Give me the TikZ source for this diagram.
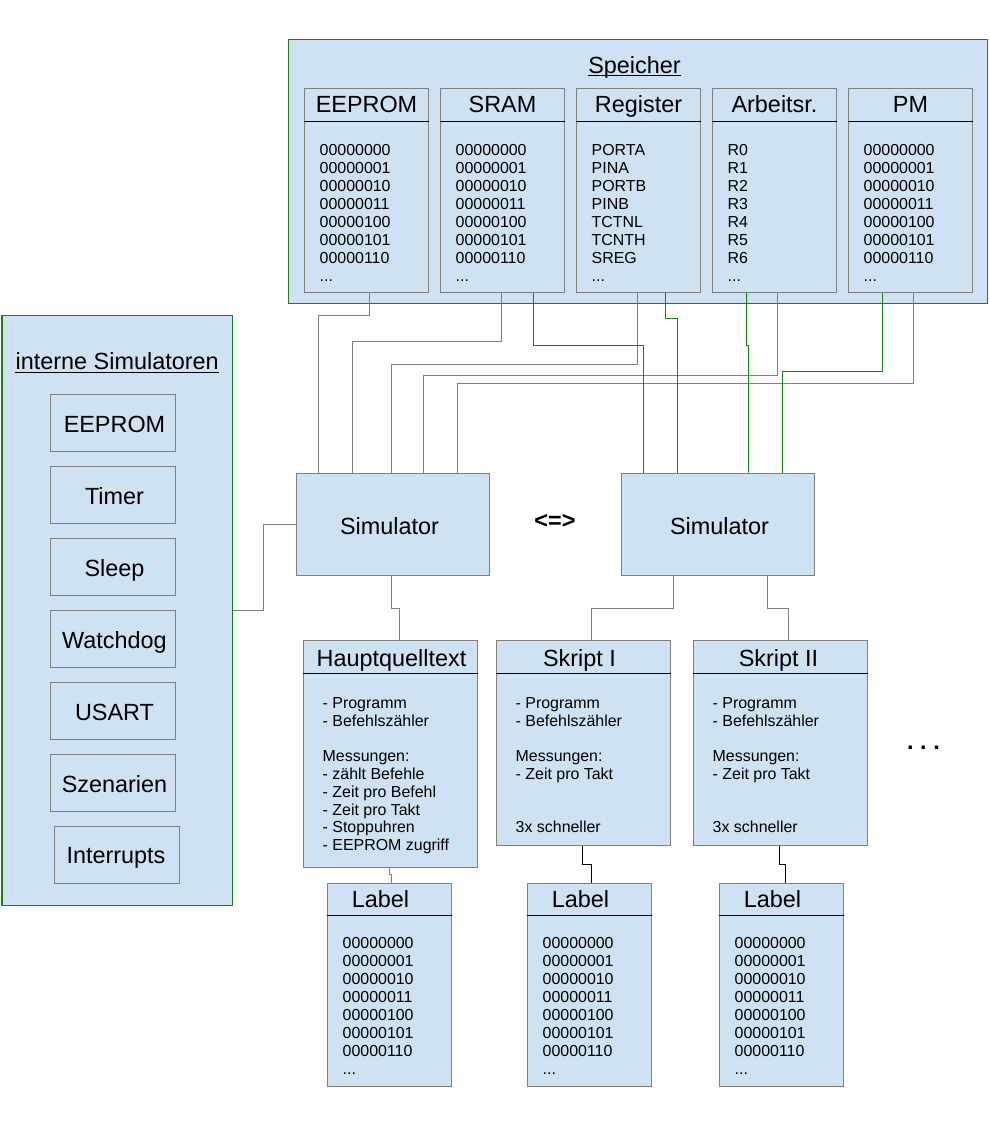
\documentclass[tikz,border=0pt]{standalone}
\usepackage{fontspec}
\setmainfont{Liberation Sans}
\definecolor{boxfill}{RGB}{207,226,243}
\definecolor{boxline}{RGB}{128,128,128}
\definecolor{grn}{RGB}{20,130,20}
\newcommand\mycont{\fontsize{16}{18}\selectfont}
\newcommand\mytitle{\fontsize{23.5}{26}\selectfont}
\begin{document}
\begin{tikzpicture}[x=1bp,y=-1bp,
  box/.style={draw=boxline,fill=boxfill,line width=1bp,inner sep=0,anchor=north west},
  panel/.style={draw=grn,fill=boxfill,line width=1bp,inner sep=0,anchor=north west},
  txt/.style={inner sep=0,font=\mycont,anchor=base west},
  ttl/.style={inner sep=0,font=\mytitle,anchor=base},
  gline/.style={draw=boxline,line width=1bp},
  gnline/.style={draw=grn,line width=1bp},
  bline/.style={draw=black,line width=1bp},
  sepline/.style={draw=black,line width=1bp},
  uline/.style={draw=black,line width=1.3bp}]
\useasboundingbox (0,0) rectangle (990,1123);
\fill[white] (0,0) rectangle (990,1123);
\begin{scope}[shift={(0.5,0.5)}]
% ---------- Speicher ----------
\node[panel,minimum width=699bp,minimum height=264bp] (spe) at (287,38) {};
\node[ttl] (spT) at (634,72.7) {Speicher};
\draw[uline] ([yshift=-2.5bp]spT.base west) -- ([yshift=-2.5bp]spT.base east);

\foreach \nm/\xx/\hd in {eep/303/EEPROM, sram/439/SRAM, reg/575/Register, arb/711/Arbeitsr., pm/847/PM}{
  \node[box,minimum width=124bp,minimum height=204bp] (\nm) at (\xx,87) {};
  \draw[sepline] ([yshift=-34bp]\nm.north west) -- ([yshift=-34bp]\nm.north east);
  \node[ttl] (\nm-t) at (\xx+63,112.4) {\hd};
  \node[txt] (\nm-7) at (\xx+16,280.7) {...};
}
\foreach \nm/\xx in {eep/303, sram/439, pm/847}{
  \foreach \t [count=\i from 0] in {00000000,00000001,00000010,00000011,00000100,00000101,00000110}
    \node[txt] (\nm-\i) at (\xx+16,154.7+18*\i) {\t};
}
\foreach \t [count=\i from 0] in {PORTA,PINA,PORTB,PINB,TCTNL,TCNTH,SREG}
  \node[txt] (reg-\i) at (591,154.7+18*\i) {\t};
\foreach \t [count=\i from 0] in {R0,R1,R2,R3,R4,R5,R6}
  \node[txt] (arb-\i) at (727,154.7+18*\i) {\t};

% ---------- interne Simulatoren ----------
\node[panel,minimum width=230bp,minimum height=590bp] (pan) at (1,314) {};
\node[ttl] (panT) at (116.7,369.4) {interne Simulatoren};
\draw[uline] ([yshift=-2.5bp]panT.base west) -- ([yshift=-2.5bp]panT.base east);
\foreach \nm/\k/\t in {le/0/EEPROM, lt/1/Timer, ls/2/Sleep, lw/3/Watchdog, lu/4/USART, lsz/5/Szenarien}{
  \node[box,minimum width=125bp,minimum height=57bp] (\nm) at (49,393+72*\k) {};
  \node[ttl] (\nm-t) at (114,393+72*\k+38.5) {\t};
}
\node[box,minimum width=125bp,minimum height=57bp] (li) at (53,825) {};
\node[ttl] (li-t) at (115.5,863.3) {Interrupts};

% ---------- Simulators ----------
\node[box,minimum width=193bp,minimum height=102bp] (simL) at (295,472) {};
\node[ttl] (simL-t) at (389,534) {Simulator};
\node[box,minimum width=193bp,minimum height=102bp] (simR) at (620,472) {};
\node[ttl] (simR-t) at (719,534) {Simulator};
\node[inner sep=0,font=\mytitle\bfseries] (eq) at (554.5,521.3) {<=>};

% ---------- Quelltexte ----------
\node[box,minimum width=174bp,minimum height=227bp] (hq) at (302,639) {};
\node[box,minimum width=174bp,minimum height=205bp] (s1) at (495,639) {};
\node[box,minimum width=174bp,minimum height=205bp] (s2) at (692,639) {};
\foreach \nm in {hq,s1,s2}
  \draw[sepline] ([yshift=-34bp]\nm.north west) -- ([yshift=-34bp]\nm.north east);
\node[ttl] (hq-t) at (391,666) {Hauptquelltext};
\node[ttl] (s1-t) at (579,666) {Skript I};
\node[ttl] (s2-t) at (778,666) {Skript II};
\foreach \k/\t in {0/- Programm, 1/- Befehlszähler, 3/Messungen:, 4/- zählt Befehle, 5/- Zeit pro Befehl, 6/- Zeit pro Takt, 7/- Stoppuhren, 8/- EEPROM zugriff}
  \node[txt] (hq-\k) at (322,707.7+17.8*\k) {\t};
\foreach \nm/\xx in {s1/515, s2/712}{
  \foreach \k/\t in {0/- Programm, 1/- Befehlszähler, 3/Messungen:, 4/- Zeit pro Takt, 7/3x schneller}
    \node[txt] (\nm-\k) at (\xx,707.7+17.8*\k) {\t};
}
\node[inner sep=0,font=\mytitle\bfseries,anchor=base] (more) at (923,749) {.\ .\ .};

% ---------- Labels ----------
\foreach \nm/\xx in {lab1/326, lab2/526, lab3/718}{
  \node[box,minimum width=124bp,minimum height=203bp] (\nm) at (\xx,882) {};
  \draw[sepline] ([yshift=-33bp]\nm.north west) -- ([yshift=-33bp]\nm.north east);
  \node[ttl] (\nm-t) at (\xx+54,906.7) {Label};
  \foreach \t [count=\i from 0] in {00000000,00000001,00000010,00000011,00000100,00000101,00000110}
    \node[txt] (\nm-\i) at (\xx+16,947.7+18*\i) {\t};
  \node[txt] (\nm-7) at (\xx+16,1073.7) {...};
}

% ---------- connectors ----------
\draw[gline] ([xshift=66bp]eep.south west) -- ++(0,23) -| ([xshift=23bp]simL.north west);
\draw[gline] ([xshift=62bp]sram.south west) -- ++(0,49) -| ([xshift=57bp]simL.north west);
\draw[gline] ([xshift=62bp]reg.south west) -- ++(0,72) -| ([xshift=96bp]simL.north west);
\draw[gline] ([xshift=66bp]arb.south west) -- ++(0,83) -| ([xshift=128bp]simL.north west);
\draw[gline] ([xshift=66bp]pm.south west) -- ++(0,91) -| ([xshift=162bp]simL.north west);

\draw[gnline] ([xshift=94bp]sram.south west) -- ++(0,53) -| ([xshift=23bp]simR.north west);
\draw[gnline] ([xshift=90bp]reg.south west) -- ++(0,26) -| ([xshift=57bp]simR.north west);
\draw[gnline] ([xshift=35bp]arb.south west) -- ++(0,53) -- ++(2,0) -- ([xshift=128bp]simR.north west);
\draw[gnline] ([xshift=35bp]pm.south west) -- ++(0,79) -| ([xshift=162bp]simR.north west);

\draw[gline] (simL.west) -- ++(-32,0) |- (pan.east);
\draw[gline] ([xshift=96bp]simL.south west) -- ++(0,33) -| ([xshift=97bp]hq.north west);
\draw[gline] ([xshift=53bp]simR.south west) -- ++(0,33) -| ([xshift=96bp]s1.north west);
\draw[gline] ([xshift=147bp]simR.south west) -- ++(0,33) -| ([xshift=96bp]s2.north west);
\draw[gline] ([xshift=87bp]hq.south west) -- ++(0,7) -| ([xshift=65bp]lab1.north west);
\draw[bline] ([xshift=87bp]s1.south west) -- ++(0,19) -| ([xshift=65bp]lab2.north west);
\draw[bline] ([xshift=87bp]s2.south west) -- ++(0,19) -| ([xshift=67bp]lab3.north west);
\end{scope}
\end{tikzpicture}
\end{document}
